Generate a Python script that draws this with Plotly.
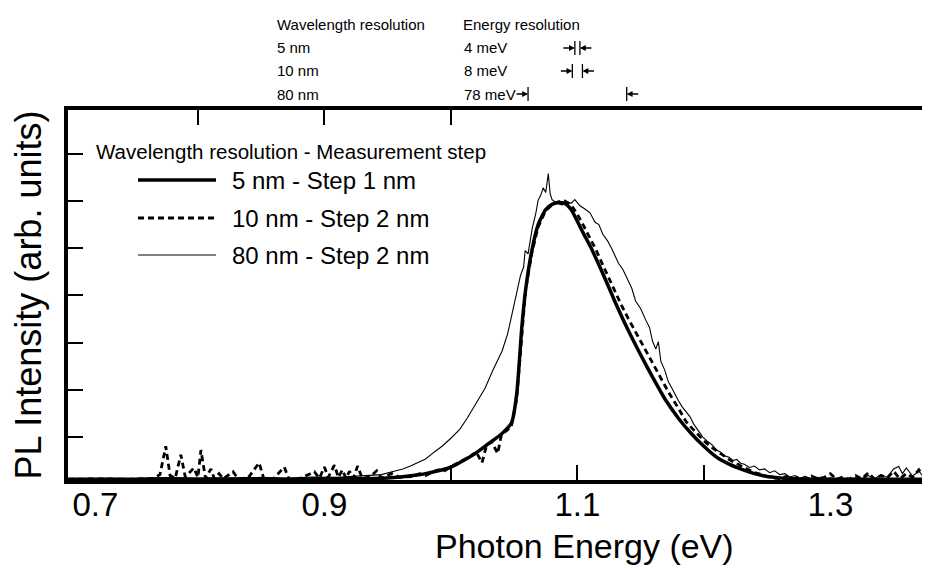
import plotly.graph_objects as go

# ---------------- data ----------------
# 5 nm resolution - step 1 nm (thick solid)
E_5nm = [0.697, 0.72, 0.75, 0.78, 0.81, 0.84, 0.87, 0.90, 0.93, 0.95,
         0.96, 0.97, 0.98, 0.99, 1.00, 1.01, 1.02, 1.03, 1.04, 1.048,
         1.052, 1.056, 1.059, 1.064, 1.069, 1.075, 1.08, 1.085, 1.09, 1.095,
         1.10, 1.105, 1.11, 1.12, 1.13, 1.14, 1.15, 1.16, 1.17, 1.18,
         1.19, 1.20, 1.21, 1.22, 1.23, 1.24, 1.25, 1.26, 1.27, 1.29,
         1.32, 1.35, 1.385]
I_5nm = [0.10, 0.10, 0.10, 0.11, 0.10, 0.11, 0.10, 0.11, 0.11, 0.13,
         0.15, 0.18, 0.22, 0.28, 0.36, 0.5, 0.66, 0.86, 1.06, 1.3,
         1.9, 3.3, 4.1, 4.95, 5.5, 5.82, 5.93, 5.97, 5.95, 5.82,
         5.57, 5.3, 5.05, 4.47, 3.85, 3.27, 2.74, 2.24, 1.77, 1.39,
         1.07, 0.8, 0.57, 0.42, 0.31, 0.22, 0.16, 0.13, 0.11, 0.1,
         0.1, 0.1, 0.1]

# 10 nm resolution - step 2 nm (dashed)
E_10nm = [0.697, 0.72, 0.745, 0.765, 0.770, 0.7746, 0.778, 0.782, 0.7865, 0.790,
          0.7968, 0.800, 0.8024, 0.806, 0.8103, 0.813, 0.8167, 0.820, 0.8278, 0.832,
          0.840, 0.8484, 0.852, 0.860, 0.8683, 0.872, 0.880, 0.8921, 0.896, 0.900,
          0.903, 0.9079, 0.911, 0.9143, 0.917, 0.9198, 0.923, 0.9262, 0.930, 0.936,
          0.9413, 0.945, 0.9532, 0.960, 0.970, 0.975, 0.980, 0.985, 0.990, 0.995,
          1.000, 1.005, 1.010, 1.015, 1.020, 1.0246, 1.028, 1.032, 1.037, 1.040,
          1.045, 1.048, 1.052, 1.056, 1.059, 1.064, 1.069, 1.075, 1.080, 1.085,
          1.090, 1.095, 1.100, 1.105, 1.110, 1.115, 1.120, 1.125, 1.130, 1.135,
          1.140, 1.146, 1.150, 1.155, 1.160, 1.165, 1.172, 1.180, 1.186, 1.190,
          1.195, 1.200, 1.205, 1.210, 1.215, 1.220, 1.225, 1.230, 1.235, 1.240,
          1.245, 1.250, 1.255, 1.260, 1.265, 1.270, 1.275, 1.280, 1.285, 1.290,
          1.295, 1.300, 1.305, 1.310, 1.315, 1.320, 1.325, 1.330, 1.335, 1.340,
          1.345, 1.350, 1.355, 1.360, 1.365, 1.370, 1.375, 1.380, 1.385]
I_10nm = [0.10, 0.11, 0.10, 0.12, 0.2, 0.8, 0.18, 0.12, 0.62, 0.15,
          0.34, 0.14, 0.72, 0.12, 0.32, 0.11, 0.22, 0.11, 0.26, 0.10,
          0.14, 0.45, 0.12, 0.12, 0.36, 0.10, 0.11, 0.26, 0.12, 0.36,
          0.14, 0.4, 0.14, 0.3, 0.12, 0.27, 0.12, 0.38, 0.12, 0.15,
          0.28, 0.13, 0.22, 0.14, 0.16, 0.22, 0.18, 0.25, 0.3, 0.28,
          0.37, 0.44, 0.52, 0.58, 0.68, 0.45, 0.8, 0.9, 0.65, 1.05,
          1.15, 1.25, 1.8, 3.2, 4.1, 4.9, 5.45, 5.8, 5.92, 5.98,
          6.0, 5.92, 5.72, 5.47, 5.22, 4.95, 4.65, 4.35, 4.05, 3.78,
          3.52, 3.22, 3.05, 2.8, 2.52, 2.3, 1.95, 1.6, 1.32, 1.2,
          1.05, 0.92, 0.8, 0.7, 0.6, 0.52, 0.45, 0.37, 0.31, 0.24,
          0.21, 0.16, 0.13, 0.11, 0.16, 0.1, 0.15, 0.1, 0.17, 0.11,
          0.14, 0.22, 0.1, 0.15, 0.1, 0.18, 0.11, 0.24, 0.1, 0.18,
          0.13, 0.27, 0.11, 0.22, 0.14, 0.3, 0.12, 0.24, 0.12]

# 80 nm resolution - step 2 nm (thin solid)
E_80nm = [0.697, 0.71, 0.73, 0.75, 0.77, 0.79, 0.81, 0.83, 0.85, 0.87,
          0.89, 0.91, 0.93, 0.945, 0.955, 0.962, 0.968, 0.974, 0.980, 0.987,
          0.993, 1.000, 1.007, 1.013, 1.020, 1.027, 1.033, 1.0405, 1.045, 1.048,
          1.052, 1.055, 1.0575, 1.0587, 1.061, 1.0643, 1.067, 1.069, 1.071, 1.073,
          1.075, 1.077, 1.0785, 1.080, 1.084, 1.088, 1.092, 1.095, 1.098, 1.102,
          1.106, 1.110, 1.114, 1.117, 1.120, 1.124, 1.127, 1.1325, 1.136, 1.140,
          1.143, 1.146, 1.150, 1.154, 1.157, 1.1595, 1.162, 1.164, 1.166, 1.169,
          1.172, 1.175, 1.178, 1.180, 1.183, 1.186, 1.189, 1.192, 1.195, 1.199,
          1.203, 1.207, 1.210, 1.213, 1.216, 1.220, 1.223, 1.226, 1.229, 1.232,
          1.236, 1.240, 1.244, 1.248, 1.252, 1.256, 1.260, 1.264, 1.268, 1.272,
          1.276, 1.280, 1.285, 1.290, 1.295, 1.300, 1.305, 1.310, 1.315, 1.320,
          1.325, 1.330, 1.335, 1.340, 1.345, 1.350, 1.354, 1.357, 1.360, 1.365,
          1.370, 1.375, 1.380, 1.385]
I_80nm = [0.10, 0.11, 0.12, 0.11, 0.13, 0.11, 0.13, 0.12, 0.14, 0.12,
          0.15, 0.14, 0.17, 0.2, 0.27, 0.32, 0.38, 0.46, 0.53, 0.68,
          0.8, 0.97, 1.16, 1.4, 1.7, 2.03, 2.4, 2.82, 3.2, 3.58,
          4.1, 4.42, 4.6, 4.95, 4.88, 5.42, 5.72, 6.02, 6.12, 6.28,
          6.18, 6.58, 6.15, 6.03, 5.95, 5.92, 5.98, 5.95, 6.03, 5.9,
          5.83, 5.75, 5.55, 5.5, 5.3, 5.15, 5.0, 4.68, 4.55, 4.3,
          4.15, 3.88, 3.72, 3.48, 3.32, 3.02, 2.86, 3.02, 2.6, 2.42,
          2.16, 2.02, 1.86, 1.76, 1.63, 1.52, 1.43, 1.27, 1.16, 1.0,
          0.9, 0.82, 0.72, 0.68, 0.6, 0.57, 0.5, 0.52, 0.44, 0.42,
          0.35, 0.38, 0.3, 0.32, 0.24, 0.28, 0.2, 0.22, 0.15, 0.18,
          0.12, 0.16, 0.11, 0.14, 0.1, 0.13, 0.1, 0.12, 0.1, 0.13,
          0.11, 0.18, 0.11, 0.2, 0.14, 0.32, 0.37, 0.22, 0.34, 0.17,
          0.27, 0.12, 0.2, 0.11]

series_names = ["5 nm - Step 1 nm", "10 nm - Step 2 nm", "80 nm - Step 2 nm"]
legend_title = "Wavelength resolution - Measurement step"
x_title = "Photon Energy (eV)"
y_title = "PL Intensity (arb. units)"

x_label_vals = [0.7, 0.9, 1.1, 1.3]
x_label_text = ["0.7", "0.9", "1.1", "1.3"]
x_ticks_bottom = [1.0, 1.1, 1.2]
x_ticks_top = [0.8, 0.9, 1.0]
y_ticks = [1, 2, 3, 4, 5, 6, 7]

res_header = ["Wavelength resolution", "Energy resolution"]
res_wavelength = ["5 nm", "10 nm", "80 nm"]
res_energy_text = ["4 meV", "8 meV", "78 meV"]
res_energy_meV = [4, 8, 78]
res_center_eV = 1.1

# ---------------- layout geometry ----------------
W, H = 930, 571
L, R, T, B = 60, 930, 102, 472
X_RANGE = [0.6973, 1.3851]
Y_RANGE = [0.085, 7.93]
FONT = "Liberation Sans, Arial, Helvetica, sans-serif"
# the first label of the original sits a little right of its tick (kept clear of the axis)
FIRST_LABEL_NUDGE_PX = 24


def px_x(p):
    return (p - L) / (R - L)


def px_y(p):
    return (B - p) / (B - T)


eV_per_px = (X_RANGE[1] - X_RANGE[0]) / (R - L)
label_pos = list(x_label_vals)
label_pos[0] = x_label_vals[0] + FIRST_LABEL_NUDGE_PX * eV_per_px

fig = go.Figure()

fig.add_trace(go.Scatter(x=E_80nm, y=I_80nm, mode="lines", name=series_names[2],
                         line=dict(color="black", width=1.1), showlegend=False))
fig.add_trace(go.Scatter(x=E_10nm, y=I_10nm, mode="lines", name=series_names[1],
                         line=dict(color="black", width=2.8, dash="6px,4px"),
                         showlegend=False))
fig.add_trace(go.Scatter(x=E_5nm, y=I_5nm, mode="lines", name=series_names[0],
                         line=dict(color="black", width=3.5, shape="spline", smoothing=0.6),
                         showlegend=False))
# invisible helpers so the extra tick axes are rendered
fig.add_trace(go.Scatter(x=[], y=[], xaxis="x2", yaxis="y", showlegend=False))
fig.add_trace(go.Scatter(x=[], y=[], xaxis="x3", yaxis="y", showlegend=False))
fig.add_trace(go.Scatter(x=[], y=[], xaxis="x", yaxis="y2", showlegend=False))

fig.update_layout(
    width=W, height=H,
    margin=dict(l=L, r=W - R, t=T, b=H - B, pad=0),
    paper_bgcolor="white", plot_bgcolor="white",
    font=dict(family=FONT, color="black"),
    xaxis=dict(range=X_RANGE, showgrid=False, zeroline=False,
               showline=True, linewidth=4, linecolor="black",
               tickvals=label_pos, ticktext=x_label_text, ticks="",
               tickfont=dict(size=33), ticklabelstandoff=-8),
    xaxis2=dict(range=X_RANGE, overlaying="x", anchor="y", side="bottom",
                showgrid=False, zeroline=False, showline=False,
                tickvals=x_ticks_bottom, ticks="inside", ticklen=15, tickwidth=2,
                tickcolor="black", showticklabels=False),
    xaxis3=dict(range=X_RANGE, overlaying="x", anchor="y", side="top",
                showgrid=False, zeroline=False, showline=True, linewidth=4,
                linecolor="black",
                tickvals=x_ticks_top, ticks="inside", ticklen=15, tickwidth=2,
                tickcolor="black", showticklabels=False),
    yaxis=dict(range=Y_RANGE, showgrid=False, zeroline=False,
               showline=True, linewidth=4, linecolor="black",
               tickvals=y_ticks, ticks="inside", ticklen=15, tickwidth=2,
               tickcolor="black", showticklabels=False,
               title=dict(text=y_title, font=dict(size=36), standoff=12)),
    yaxis2=dict(range=Y_RANGE, overlaying="y", anchor="x", side="right",
                showgrid=False, zeroline=False, showline=False,
                tickvals=y_ticks, ticks="inside", ticklen=10, tickwidth=2,
                tickcolor="black", showticklabels=False),
)

annotations = []
shapes = []

# x-axis title (in the original it is centred right of the plot centre)
annotations.append(dict(text=x_title, xref="paper", yref="paper",
                        x=px_x(576), y=px_y(538), xanchor="center", yanchor="middle",
                        showarrow=False, font=dict(size=34)))

# legend (drawn manually to match the original's long line samples)
annotations.append(dict(text=legend_title, xref="paper", yref="paper",
                        x=px_x(86), y=px_y(143), xanchor="left", yanchor="middle",
                        showarrow=False, font=dict(size=20.5)))
legend_rows_px = [172, 210, 247]
legend_styles = [dict(color="black", width=3.5),
                 dict(color="black", width=2.8, dash="6px,4px"),
                 dict(color="black", width=1.1)]
for name, ypx, st in zip(series_names, legend_rows_px, legend_styles):
    shapes.append(dict(type="line", xref="paper", yref="paper",
                       x0=px_x(130), x1=px_x(208), y0=px_y(ypx), y1=px_y(ypx), line=st))
    annotations.append(dict(text=name, xref="paper", yref="paper",
                            x=px_x(222), y=px_y(ypx), xanchor="left", yanchor="middle",
                            showarrow=False, font=dict(size=24)))

# resolution table above the plot
header_y = 17
row_y = [40, 63, 86]
annotations.append(dict(text=res_header[0], xref="paper", yref="paper",
                        x=px_x(267), y=px_y(header_y), xanchor="left", yanchor="middle",
                        showarrow=False, font=dict(size=15)))
annotations.append(dict(text=res_header[1], xref="paper", yref="paper",
                        x=px_x(453), y=px_y(header_y), xanchor="left", yanchor="middle",
                        showarrow=False, font=dict(size=15)))
for wl, et, res, ypx in zip(res_wavelength, res_energy_text, res_energy_meV, row_y):
    annotations.append(dict(text=wl, xref="paper", yref="paper",
                            x=px_x(267), y=px_y(ypx), xanchor="left", yanchor="middle",
                            showarrow=False, font=dict(size=15)))
    annotations.append(dict(text=et, xref="paper", yref="paper",
                            x=px_x(454), y=px_y(ypx), xanchor="left", yanchor="middle",
                            showarrow=False, font=dict(size=15)))
    half = res / 2000.0
    for xb, ax in ((res_center_eV - half, -13), (res_center_eV + half, 13)):
        shapes.append(dict(type="line", xref="x", yref="paper",
                           x0=xb, x1=xb, y0=px_y(ypx + 7), y1=px_y(ypx - 7),
                           line=dict(color="black", width=1.3)))
        annotations.append(dict(text="", xref="x", yref="paper", x=xb, y=px_y(ypx),
                                ax=ax, ay=0, showarrow=True, arrowhead=2,
                                arrowsize=0.9, arrowwidth=1.3, arrowcolor="black"))

fig.update_layout(annotations=annotations, shapes=shapes)

fig.write_html("out.html")
